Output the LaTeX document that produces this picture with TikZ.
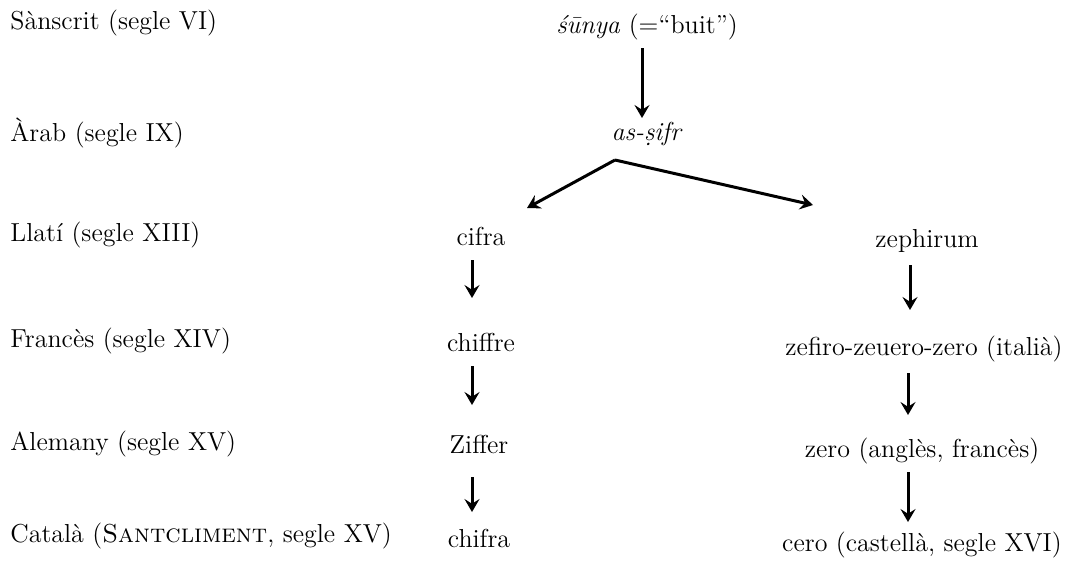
\documentclass[tikz,border=0pt]{standalone}
\usetikzlibrary{arrows.meta,calc}
\begin{document}
\begin{tikzpicture}[x=0.5pt,y=-0.5pt,
  lbl/.style={anchor=base west,inner sep=0pt,font=\fontsize{13}{15}\selectfont},
  word/.style={anchor=base,inner sep=0pt,font=\fontsize{13}{15}\selectfont},
  arr/.style={line width=1.5pt,-{Stealth[length=6.5pt,width=7.5pt,inset=2.4pt]}}]
\useasboundingbox (0,0) rectangle (1079,563);

% century labels
\node[lbl] (l1) at (10,29)  {Sànscrit (segle VI)};
\node[lbl] (l2) at (10,141) {Àrab (segle IX)};
\node[lbl] (l3) at (10,241) {Llatí (segle XIII)};
\node[lbl] (l4) at (10,347) {Francès (segle XIV)};
\node[lbl] (l5) at (10,450) {Alemany (segle XV)};
\node[lbl] (l6) at (10,542) {Català (\textsc{Santcliment}, segle XV)};

% origin
\node[word] (sunya) at (647,33)  {\textit{\'s\=unya} (=``buit'')};
\node[word] (asifr) at (647,140) {\textit{as-\d{s}ifr}};

% left branch
\node[word] (cifra)   at (481,245) {cifra};
\node[word] (chiffre) at (481,351) {chiffre};
\node[word] (ziffer)  at (479,453) {Ziffer};
\node[word] (chifra)  at (479,547) {chifra};

% right branch
\node[word] (zephirum) at (927,247) {zephirum};
\node[word] (zefiro)   at (924,355) {zefiro-zeuero-zero (italià)};
\node[word] (zeroen)   at (922,457) {zero (anglès, francès)};
\node[word] (cero)     at (922,551) {cero (castellà, segle XVI)};

% fork below as-sifr
\coordinate (fork)  at ($(asifr.base)+(-32,20)$);
\coordinate (tipL)  at ($(cifra.base)+(46,-37)$);
\coordinate (tipR)  at ($(zephirum.base)+(-114,-42)$);

\draw[arr] ($(sunya.base)+(-5,15)$) -- ($(asifr.base)+(-5,-22)$);
\draw[arr] (fork) -- (tipL);
\draw[arr] (fork) -- (tipR);

\draw[arr] ($(cifra.base)+(-9,15)$)   -- ($(chiffre.base)+(-9,-53)$);
\draw[arr] ($(chiffre.base)+(-9,15)$) -- ($(ziffer.base)+(-7,-48)$);
\draw[arr] ($(ziffer.base)+(-7,24)$)  -- ($(chifra.base)+(-7,-35)$);

\draw[arr] ($(zephirum.base)+(-17,18)$) -- ($(zefiro.base)+(-14,-45)$);
\draw[arr] ($(zefiro.base)+(-16,18)$)   -- ($(zeroen.base)+(-14,-42)$);
\draw[arr] ($(zeroen.base)+(-14,15)$)   -- ($(cero.base)+(-14,-29)$);
\end{tikzpicture}
\end{document}
